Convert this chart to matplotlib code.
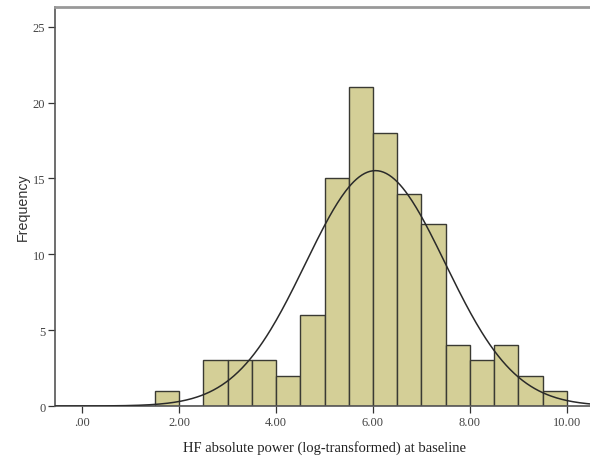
import numpy as np
import matplotlib
matplotlib.use("Agg")
import matplotlib.pyplot as plt

# histogram bins (width 0.5) and counts
bin_edges = [1.5, 2.0, 2.5, 3.0, 3.5, 4.0, 4.5, 5.0, 5.5, 6.0, 6.5,
             7.0, 7.5, 8.0, 8.5, 9.0, 9.5, 10.0]
counts = [1, 0, 3, 3, 3, 2, 6, 15, 21, 18, 14, 12, 4, 3, 4, 2, 1]

# fitted normal curve parameters (estimated)
curve_mean = 6.05
curve_sd = 1.44
n_total = sum(counts)
bin_width = 0.5

x_ticks = [0, 2, 4, 6, 8, 10]
x_ticklabels = [".00", "2.00", "4.00", "6.00", "8.00", "10.00"]
y_ticks = [0, 5, 10, 15, 20, 25]

fig = plt.figure(figsize=(5.9, 4.6), dpi=100)
ax = fig.add_axes([0.0932, 0.1152, 0.912, 0.8674])

lefts = bin_edges[:-1]
widths = np.diff(bin_edges)
ax.bar(lefts, counts, width=widths, align="edge", color="#d4cf97",
       edgecolor="#3a3a33", linewidth=1.0, zorder=2)

xs = np.linspace(-0.6, 10.6, 400)
ys = n_total * bin_width / (curve_sd * np.sqrt(2 * np.pi)) * \
    np.exp(-0.5 * ((xs - curve_mean) / curve_sd) ** 2)
ax.plot(xs, ys, color="#2a2a2a", linewidth=1.1, zorder=3)

ax.set_xlim(-0.56, 10.54)
ax.set_ylim(0, 26.3)

ax.set_xticks(x_ticks)
ax.set_xticklabels(x_ticklabels, family="Liberation Serif", fontsize=9,
                   color="#444444")
ax.set_yticks(y_ticks)
ax.set_yticklabels([str(v) for v in y_ticks], family="Liberation Serif",
                   fontsize=9, color="#444444")
ax.tick_params(length=5, width=0.9, color="#333333", pad=2)

ax.set_xlabel("HF absolute power (log-transformed) at baseline",
              family="Liberation Serif", fontsize=10.5, color="#222222",
              labelpad=9)
ax.set_ylabel("Frequency", family="Liberation Sans", fontsize=10.3,
              color="#333333", labelpad=2)

for side in ["left", "top", "bottom"]:
    ax.spines[side].set_color("#555555")
    ax.spines[side].set_linewidth(1.2)
ax.spines["right"].set_visible(False)
ax.spines["top"].set_color("#999999")
ax.spines["top"].set_linewidth(2)

fig.savefig("out.png", dpi=100)
